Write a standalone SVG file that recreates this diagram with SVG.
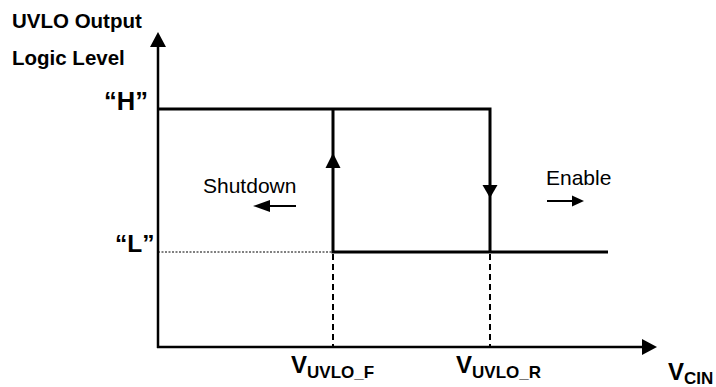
<svg xmlns="http://www.w3.org/2000/svg" width="716" height="387" viewBox="0 0 716 387">
<style>
text{font-family:"Liberation Sans",Arial,sans-serif;fill:#000}
.b{font-weight:bold}
.ln{stroke:#000;stroke-width:3;fill:none}
.ax{stroke:#000;stroke-width:2.5;fill:none}
.ds{stroke:#000;stroke-width:2;stroke-dasharray:6,4;fill:none}
.dt{stroke:#000;stroke-width:1;stroke-dasharray:2,1.5;fill:none}
.ar{stroke:#000;stroke-width:2;fill:none}
</style>
<rect width="716" height="387" fill="#fff"/>
<g id="axes">
<path class="ax" d="M158,348 V45"/>
<polygon points="158,32 150,47 166,47"/>
<path class="ax" d="M157,347 H644"/>
<polygon points="657,347 642,339 642,355"/>
</g>
<g id="connectors">
<path class="ln" d="M158,109 H490 V252"/>
<path class="ln" d="M333,109 V252 H608"/>
<polygon points="333,153 325.5,168 340.5,168"/>
<polygon points="490,198 482.5,185 497.5,185"/>
<path class="dt" d="M158,252 H333"/>
<path class="ds" d="M333,254 V347"/>
<path class="ds" d="M490,254 V347"/>
<path class="ar" d="M296,206 H266"/>
<polygon points="253,206 270,200 270,212"/>
<path class="ar" d="M547,201 H575"/>
<polygon points="584,201 572,195.5 572,206.5"/>
</g>
<g id="labels">
<text class="b" x="12" y="28" font-size="20.5">UVLO Output</text>
<text class="b" x="12" y="65" font-size="20.5">Logic Level</text>
<text class="b" x="104" y="110" font-size="25.5">“H”</text>
<text class="b" x="115" y="252" font-size="24.5">“L”</text>
<text x="203" y="193" font-size="21">Shutdown</text>
<text x="546" y="185" font-size="21">Enable</text>
<text class="b" x="291" y="373" font-size="24">V<tspan font-size="17" y="378">UVLO_F</tspan></text>
<text class="b" x="456" y="373" font-size="24">V<tspan font-size="17" y="378">UVLO_R</tspan></text>
<text class="b" x="668" y="380" font-size="24">V<tspan font-size="17" y="384">CIN</tspan></text>
</g>
</svg>
